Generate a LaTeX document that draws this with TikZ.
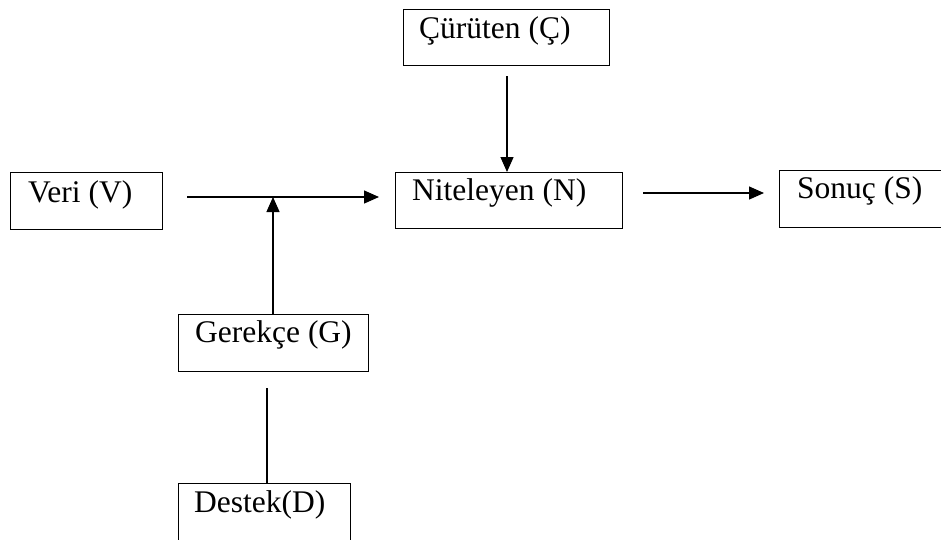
\documentclass[tikz,border=0pt]{standalone}
\usepackage{fontspec}
\setmainfont{Liberation Serif}
\usetikzlibrary{arrows.meta}
\begin{document}
\begin{tikzpicture}[x=1pt,y=-1pt,
  box/.style={draw,line width=1.3pt,inner sep=0pt,anchor=north west},
  lbl/.style={anchor=base west,inner sep=0pt,font=\fontsize{31.5}{36}\selectfont},
  link/.style={line width=1.3pt},
  arr/.style={link,-{Triangle[length=15pt,width=13pt]}}]
\useasboundingbox (0,0) rectangle (941,539);
\clip (0,0) rectangle (941,539);
\fill[white] (0,0) rectangle (941,539);
% boxes
\node[box,minimum width=152pt,minimum height=57pt] (V) at (10,172) {};
\node[box,minimum width=206pt,minimum height=56pt] (C) at (403,9) {};
\node[box,minimum width=227pt,minimum height=56pt] (N) at (395,172) {};
\node[box,minimum width=220pt,minimum height=57pt] (S) at (779,170) {};
\node[box,minimum width=190pt,minimum height=57pt] (G) at (178,314) {};
\node[box,minimum width=172pt,minimum height=80pt] (D) at (178,483) {};
% labels
\node[lbl] (tV) at (28,202) {Veri (V)};
\node[lbl] (tC) at (419,38) {Çürüten (Ç)};
\node[lbl] (tN) at (412,200) {Niteleyen (N)};
\node[lbl] (tS) at (797,198) {Sonuç (S)};
\node[lbl] (tG) at (195,342) {Gerekçe (G)};
\node[lbl] (tD) at (194,512) {Destek(D)};
% connector ends
\coordinate (vs) at (187,197);
\coordinate (ve) at (379,197);
\coordinate (j) at (273,197);
\coordinate (gt) at (273,314);
\coordinate (cs) at (507,76);
\coordinate (ce) at (507,172);
\coordinate (ns) at (643,193);
\coordinate (ne) at (764,193);
\coordinate (gb) at (267,388);
\coordinate (dt) at (267,483);
% connectors
\draw[arr] (vs) -- (ve);
\draw[arr] (gt) -- (j);
\draw[arr] (cs) -- (ce);
\draw[arr] (ns) -- (ne);
\draw[link] (gb) -- (dt);
\end{tikzpicture}
\end{document}
